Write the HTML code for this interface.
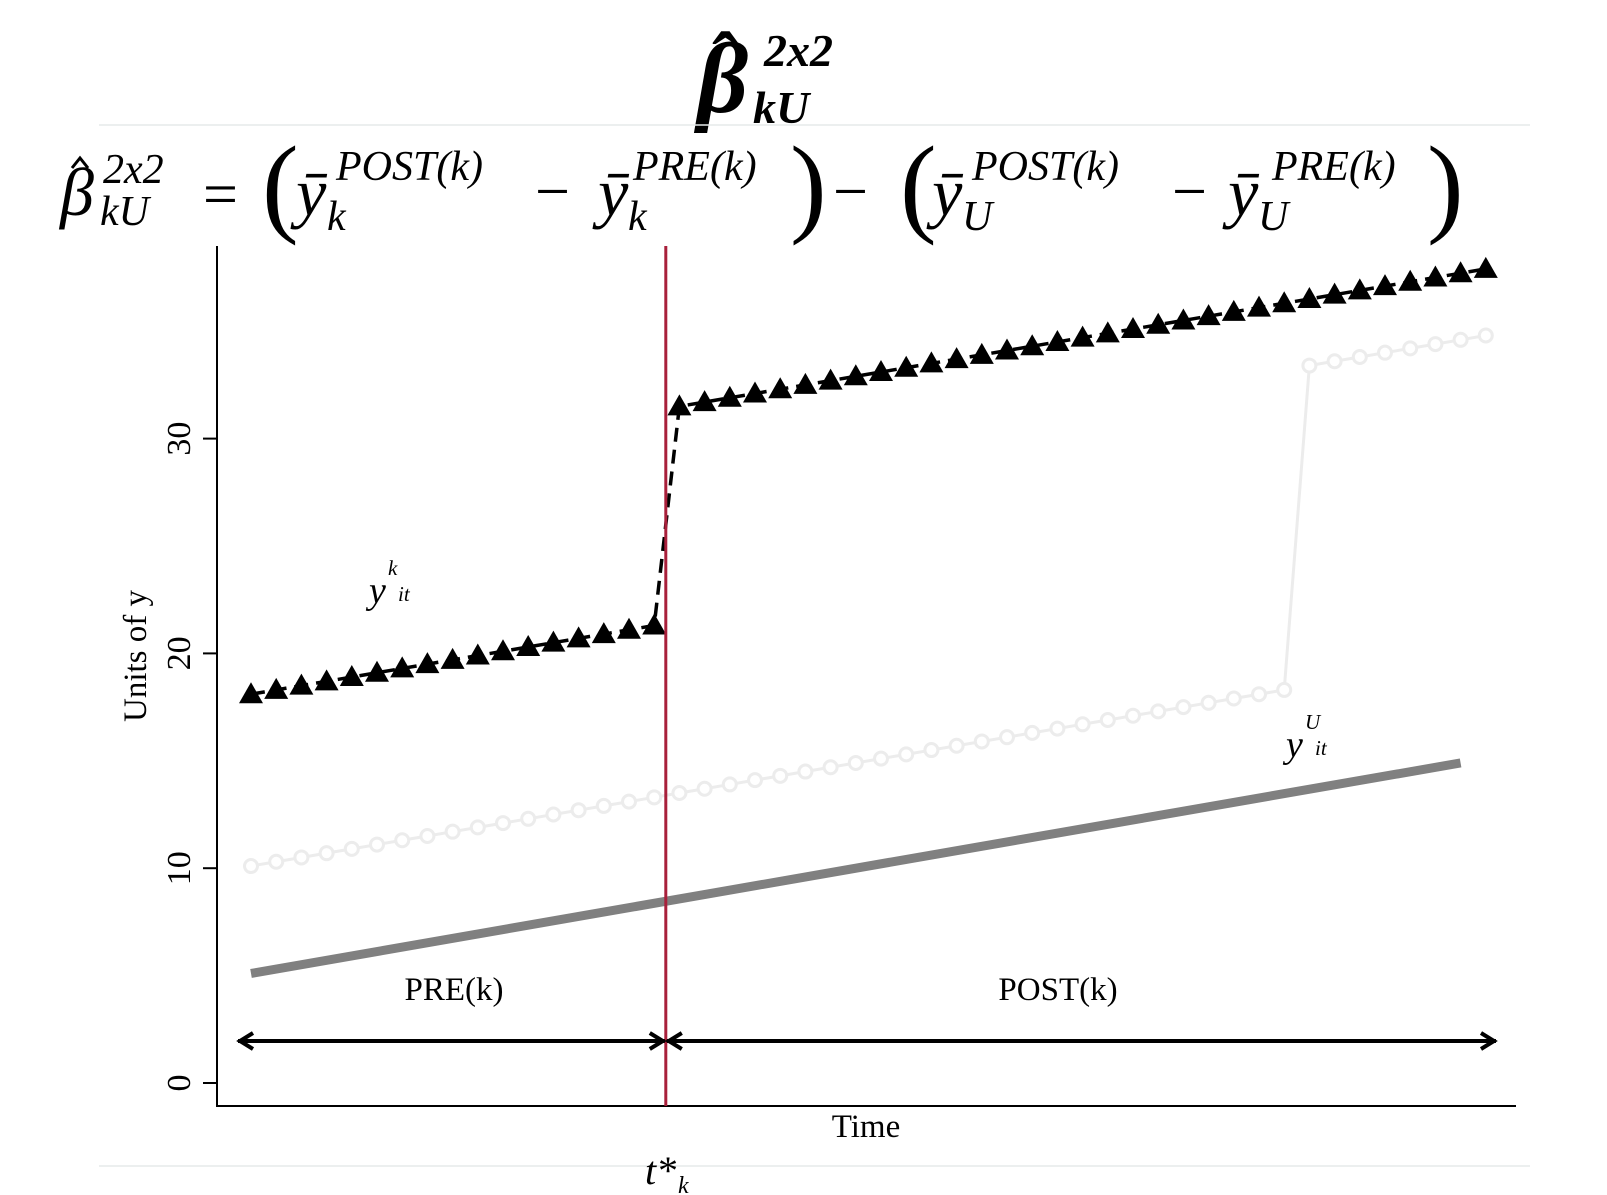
<!DOCTYPE html>
<html><head><meta charset="utf-8"><style>
html,body{margin:0;padding:0;background:#fff;}
svg{display:block;}
</style></head><body>
<svg id="chart" width="1607" height="1195" viewBox="0 0 1607 1195" xmlns="http://www.w3.org/2000/svg">
<g font-family="Liberation Serif, serif">
  <text x="697" y="112" font-size="100" font-style="italic" font-weight="bold">β</text>
  <text x="712" y="88" font-size="80" font-weight="bold">ˆ</text>
  <text x="764" y="66" font-size="46" font-style="italic" font-weight="bold">2x2</text>
  <text x="753" y="123" font-size="46" font-style="italic" font-weight="bold">kU</text>
</g>
<line x1="99" y1="125" x2="1530" y2="125" stroke="#e6eaea" stroke-width="1.5"/>
<g font-family="Liberation Serif, serif" font-style="italic">
  <text x="60" y="215" font-size="68">β</text>
  <polyline points="72,168 80,158 88,168" fill="none" stroke="#000" stroke-width="3"/>
  <text x="103" y="183" font-size="42">2x2</text>
  <text x="100" y="225" font-size="42">kU</text>
  <text x="203" y="215" font-size="62" font-style="normal">=</text>
  <text x="262" y="222" font-size="110" font-style="normal">(</text>
  <text x="296" y="215" font-size="68">ȳ</text>
  <text x="336" y="180" font-size="42">POST(k)</text>
  <text x="327" y="230" font-size="42">k</text>
  <text x="535" y="212" font-size="62" font-style="normal">−</text>
  <text x="598" y="215" font-size="68">ȳ</text>
  <text x="633" y="180" font-size="42">PRE(k)</text>
  <text x="628" y="230" font-size="42">k</text>
  <text x="790" y="222" font-size="110" font-style="normal">)</text>
  <text x="833" y="212" font-size="62" font-style="normal">−</text>
  <text x="900" y="222" font-size="110" font-style="normal">(</text>
  <text x="932" y="215" font-size="68">ȳ</text>
  <text x="972" y="180" font-size="42">POST(k)</text>
  <text x="962" y="230" font-size="42">U</text>
  <text x="1172" y="212" font-size="62" font-style="normal">−</text>
  <text x="1228" y="215" font-size="68">ȳ</text>
  <text x="1272" y="180" font-size="42">PRE(k)</text>
  <text x="1258" y="230" font-size="42">U</text>
  <text x="1427" y="222" font-size="110" font-style="normal">)</text>
</g>
<g id="plot"></g>
<line x1="99" y1="1166" x2="1530" y2="1166" stroke="#e6eaea" stroke-width="1.5"/>
<g font-family="Liberation Serif, serif" font-style="italic">
  <text x="645" y="1184" font-size="40">t*</text>
  <text x="678" y="1193" font-size="24">k</text>
</g>
</svg>
<script>
const periods = [0,1,2,3,4,5,6,7,8,9,10,11,12,13,14,15,16,17,18,19,20,21,22,23,24,25,26,27,28,29,30,31,32,33,34,35,36,37,38,39,40,41,42,43,44,45,46,47,48,49];
const treatedK = [18.1,18.3,18.5,18.7,18.9,19.1,19.3,19.5,19.7,19.9,20.1,20.3,20.5,20.7,20.9,21.1,21.3,31.5,31.7,31.9,32.1,32.3,32.5,32.7,32.9,33.1,33.3,33.5,33.7,33.9,34.1,34.3,34.5,34.7,34.9,35.1,35.3,35.5,35.7,35.9,36.1,36.3,36.5,36.7,36.9,37.1,37.3,37.5,37.7,37.9];
const laterTreated = [10.1,10.3,10.5,10.7,10.9,11.1,11.3,11.5,11.7,11.9,12.1,12.3,12.5,12.7,12.9,13.1,13.3,13.5,13.7,13.9,14.1,14.3,14.5,14.7,14.9,15.1,15.3,15.5,15.7,15.9,16.1,16.3,16.5,16.7,16.9,17.1,17.3,17.5,17.7,17.9,18.1,18.3,33.4,33.6,33.8,34.0,34.2,34.4,34.6,34.8];
const untreatedPeriods = [0,48];
const untreatedU = [5.1,14.9];
const yTicks = [0,10,20,30];
const treatPeriod = 16.5;

const NS='http://www.w3.org/2000/svg';
const plot=document.getElementById('plot');
const X=t=>251+25.2*t;
const Y=v=>1083-21.48*v;
function mk(tag,attrs,parent){const e=document.createElementNS(NS,tag);for(const k in attrs)e.setAttribute(k,attrs[k]);(parent||plot).appendChild(e);return e;}

let ax=mk('line',{x1:217,y1:246,x2:217,y2:1106,stroke:'#000','stroke-width':2});


let xa=mk('line',{x1:216,y1:1106,x2:1516,y2:1106,stroke:'#000','stroke-width':2});


yTicks.forEach(v=>{
  const tk=mk('line',{x1:203,y1:Y(v),x2:217,y2:Y(v),stroke:'#000','stroke-width':2});
  
  
  const tl=mk('text',{x:0,y:0,'font-family':'Liberation Serif, serif','font-size':34,'text-anchor':'middle',transform:`translate(190,${Y(v)}) rotate(-90)`});
  tl.textContent=v;
  
  
});
let yt=mk('text',{x:0,y:0,'font-family':'Liberation Serif, serif','font-size':33,'text-anchor':'middle',transform:'translate(146,656) rotate(-90)'});
yt.textContent='Units of y';


let xt=mk('text',{x:866,y:1137,'font-family':'Liberation Serif, serif','font-size':33,'text-anchor':'middle'});
xt.textContent='Time';



let ul=mk('polyline',{points:untreatedPeriods.map((t,i)=>X(t)+','+Y(untreatedU[i])).join(' '),fill:'none',stroke:'#808080','stroke-width':9});



let ll=mk('polyline',{points:periods.map((t,i)=>X(t)+','+Y(laterTreated[i])).join(' '),fill:'none',stroke:'#ececec','stroke-width':3});


periods.forEach((t,i)=>{
  const c=mk('circle',{cx:X(t),cy:Y(laterTreated[i]),r:6.5,fill:'#fff',stroke:'#ececec','stroke-width':3});
  
  
});

let tl=mk('polyline',{points:periods.map((t,i)=>X(t)+','+Y(treatedK[i])).join(' '),fill:'none',stroke:'#000','stroke-width':3.5,'stroke-dasharray':'14,8'});


periods.forEach((t,i)=>{
  const x=X(t),y=Y(treatedK[i]);
  const p=mk('polygon',{points:`${x},${y-12} ${x-12},${y+9} ${x+12},${y+9}`,fill:'#000'});
  
  
});

const rx=X(treatPeriod)-1;
let rl=mk('line',{x1:rx,y1:246,x2:rx,y2:1106,stroke:'#a8203b','stroke-width':3});



function arrow(x1,x2,name){
  const g=mk('g',{stroke:'#000','stroke-width':4,fill:'none'});
  
  
  mk('line',{x1:x1,y1:1041,x2:x2,y2:1041},g);
  mk('polyline',{points:`${x1+15},1033 ${x1+2},1041 ${x1+15},1049`},g);
  mk('polyline',{points:`${x2-15},1033 ${x2-2},1041 ${x2-15},1049`},g);
}
arrow(238,rx-1,'pre-period-arrow');
arrow(rx+1,1496,'post-period-arrow');
let pre=mk('text',{x:454,y:1000,'font-family':'Liberation Serif, serif','font-size':33,'text-anchor':'middle'});
pre.textContent='PRE(k)';


let post=mk('text',{x:1058,y:1000,'font-family':'Liberation Serif, serif','font-size':33,'text-anchor':'middle'});
post.textContent='POST(k)';



function ann(x,y,sup,name){
  const g=mk('g',{'font-family':'Liberation Serif, serif','font-style':'italic'});
  
  
  const a=mk('text',{x:x,y:y,'font-size':38},g);a.textContent='y';
  const b=mk('text',{x:x+19,y:y-28,'font-size':21},g);b.textContent=sup;
  const c=mk('text',{x:x+29,y:y-2,'font-size':21},g);c.textContent='it';
}
ann(369,603,'k','treated-annotation');
ann(1286,757,'U','untreated-annotation');
</script>
</body></html>
